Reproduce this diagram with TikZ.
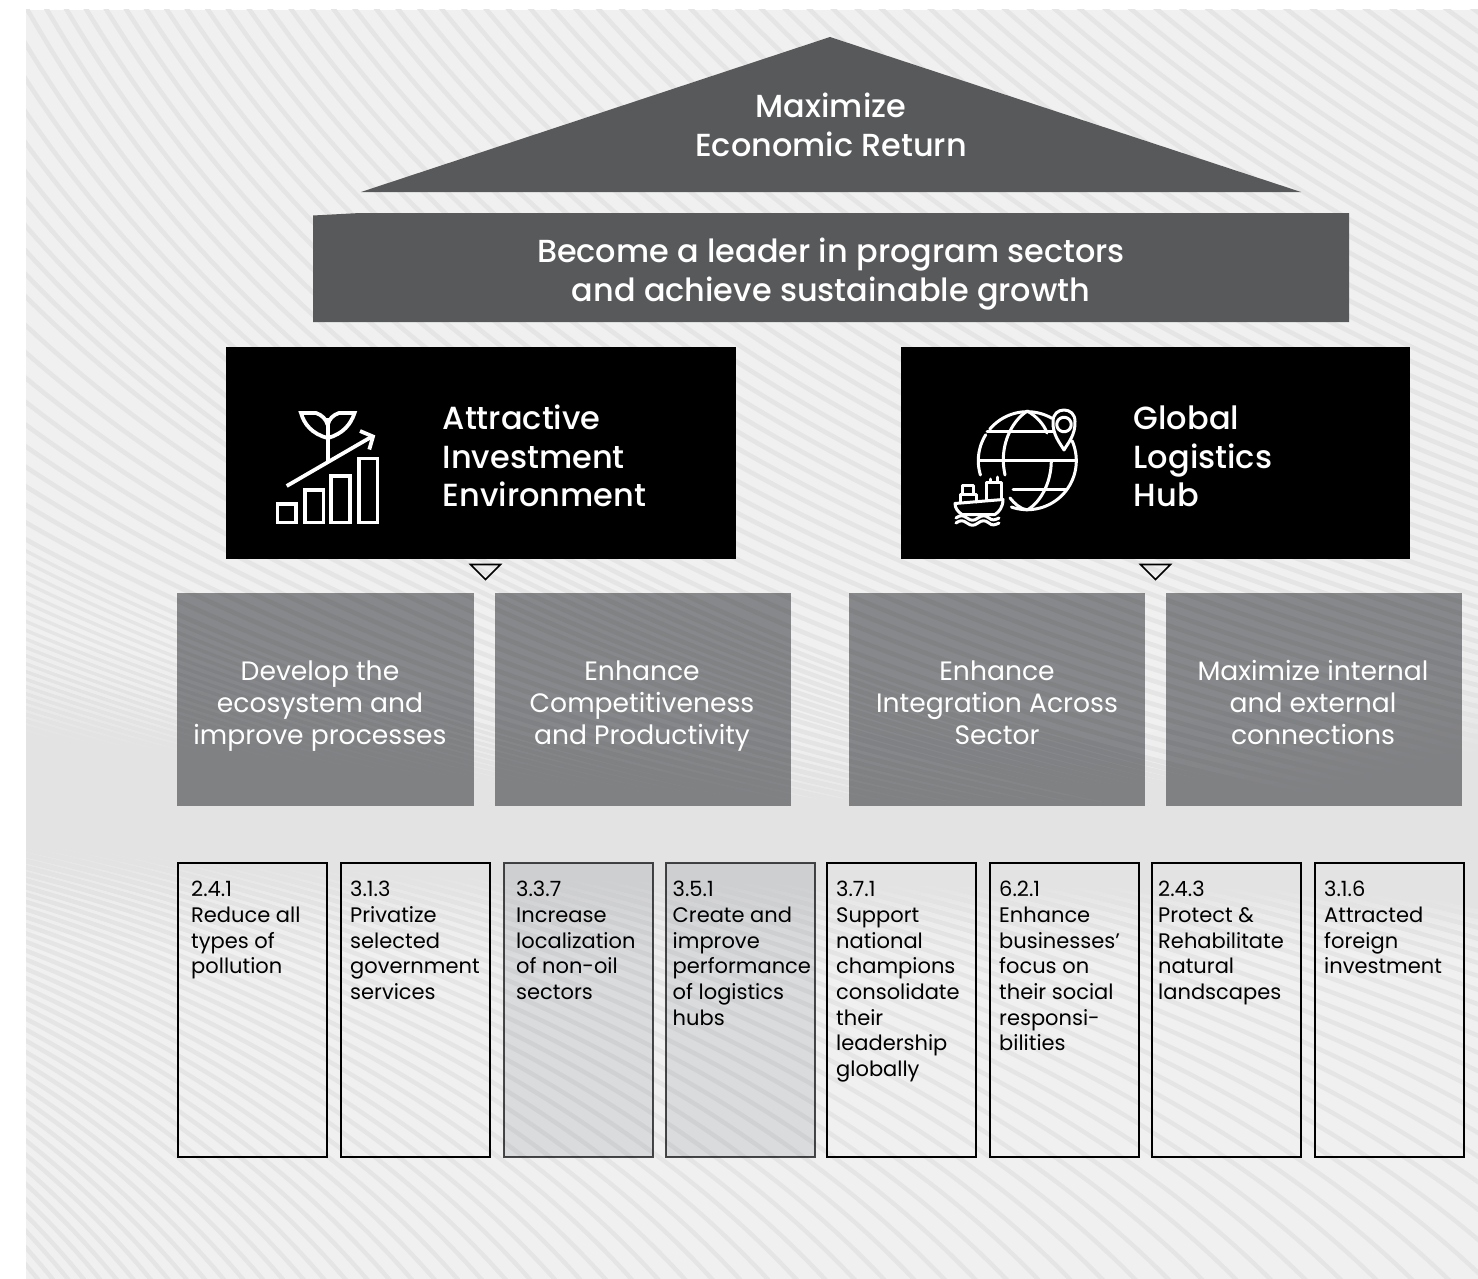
\documentclass[tikz,border=0pt]{standalone}
\usepackage{fontspec}
\setmainfont{Poppins}
\newfontfamily\pmed{Poppins}[UprightFont=* Medium]
\usetikzlibrary{calc}
\definecolor{bgbase}{HTML}{F0F0F0}
\definecolor{bgstripe}{HTML}{E5E5E5}
\definecolor{bgband}{HTML}{E3E3E3}
\definecolor{slate}{HTML}{58595B}
\definecolor{midgrey}{HTML}{909194}
\definecolor{palegrey}{HTML}{E8E9EB}
\tikzset{
  stripe/.style={bgstripe,line width=4.6pt},
  finestripe/.style={bgstripe,line width=3.4pt},
  lowstripe/.style={bgstripe,line width=4.4pt},
  midbox/.style={fill=midgrey,draw=none,inner sep=0pt,anchor=north west},
  paperbox/.style={draw=black,line width=2pt,inner sep=0pt,anchor=north west,minimum width=149pt,minimum height=294pt},
  shadebox/.style={draw=slate!85!black,line width=2pt,fill=palegrey,inner sep=0pt,anchor=north west,minimum width=149pt,minimum height=294pt},
  roofbox/.style={fill=black,draw=none,inner sep=0pt,anchor=north west},
  marker/.style={draw=black,line width=1.6pt,line join=miter},
  titletext/.style={text=white,align=center,inner sep=0pt,font=\pmed\fontsize{31.9}{39}\selectfont},
  pillartext/.style={text=white,align=left,inner sep=0pt,anchor=west,font=\pmed\fontsize{32}{38.5}\selectfont},
  midtext/.style={text=white,align=center,inner sep=0pt,font=\fontsize{26.6}{32}\selectfont},
  smalltext/.style={text=black,align=left,inner sep=0pt,anchor=north west,font=\fontsize{21}{25.7}\selectfont},
  icon/.style={draw=white,line width=3.8pt,line join=miter,line cap=butt},
  iconthin/.style={draw=white,line width=3pt,line cap=round,line join=round},
}
\newcommand{\fadeup}[1]{%
  \pgfmathsetmacro\ff{sqrt(#1/20)}%
  \fill[bgband,opacity=0.08] plot[smooth] coordinates {
    (0,{640+124*\ff}) (400,{690+115*\ff}) (800,{730+105*\ff}) (1100,{740+110*\ff}) (1300,{690+140*\ff}) (1500,{620+168*\ff})}
    -- (1500,800) -- (1300,840) -- (1100,856) -- (800,845) -- (400,815) -- (0,775) -- cycle;}
\newcommand{\fadedown}[1]{%
  \pgfmathsetmacro\ff{sqrt(#1/20)}%
  \fill[bgband,opacity=0.08] plot[smooth] coordinates {
    (0,{930-117*\ff}) (400,{950-102*\ff}) (800,{960-102*\ff}) (1100,{960-98*\ff}) (1300,{950-80*\ff}) (1500,{960-74*\ff})}
    -- (1500,875) -- (1300,860) -- (1100,852) -- (800,848) -- (400,838) -- (0,803) -- cycle;}
\newcommand{\arcpath}[5]{plot[domain=#4:#5,samples=40,smooth] ({#1+#3*cos(\x)},{#2-#3*sin(\x)})}
\begin{document}
\begin{tikzpicture}[x=1pt,y=-1pt]
\useasboundingbox (0,0) rectangle (1478,1279);
\fill[white] (0,0) rectangle (1478,1279);
% ---------- striped ground
\begin{scope}
\clip (26,10) rectangle (1478,1279);
\fill[bgbase] (26,10) rectangle (1478,1279);
\foreach \i in {0,...,66}{
  \pgfmathsetmacro\xo{19*\i+.06*\i*\i}
  \pgfmathsetmacro\cc{1+\xo/1000}
  \draw[stripe] (\xo,-40) .. controls ({\xo+180*\cc},300) and ({\xo+500*\cc},640) .. ({\xo+1400*\cc},815) -- ++(700,60);
}
\foreach \i in {1,...,10}{
  \pgfmathsetmacro\xo{-22*\i}
  \draw[stripe] (\xo,-40) .. controls ({\xo+180},300) and ({\xo+500},640) .. ({\xo+1400},815) -- ++(700,60);
}
\foreach \i in {1,...,11}{
  \pgfmathsetmacro\xo{-220-30*\i}
  \draw[stripe] (\xo,-40) .. controls ({\xo+180},300) and ({\xo+500},640) .. ({\xo+1400},815) -- ++(700,60);
}
\foreach \i in {1,...,42}{
  \pgfmathsetmacro\xo{-550-21*\i}
  \draw[finestripe] (\xo,-40) .. controls ({\xo+180},300) and ({\xo+500},640) .. ({\xo+1400},815) -- ++(700,60);
}
\foreach \i in {0,...,85}{
  \pgfmathsetmacro\xb{40+14*\i+.2*\i*\i}
  \pgfmathsetmacro\cc{1+\xb/5000}
  \draw[lowstripe] ({\xb-1000*\cc},800) .. controls ({\xb-550*\cc},880) and ({\xb-190*\cc},1050) .. (\xb,1320);
}
\foreach \k in {0,...,19}{\fadeup{\k}\fadedown{\k}}
\fill[bgband] plot[smooth] coordinates {(0,764) (400,805) (800,835) (1100,850) (1300,830) (1500,788)}
  -- (1500,886) -- (1300,870) -- (1100,862) -- (800,858) -- (400,848) -- (0,813) -- cycle;
\end{scope}
% ---------- roof and banner
\fill[slate] (830,37) -- (1301,192) -- (361,192) -- cycle;
\fill[slate] (313,215.5) -- (360,213) -- (1349,213) -- (1349,322) -- (313,322) -- cycle;
\node[titletext] (roof) at (831,125) {Maximize\\Economic Return};
\node[titletext] (banner) at (831,274) {Become a leader in program sectors\\and achieve sustainable growth};
% ---------- pillars
\node[roofbox,minimum width=510pt,minimum height=212pt] (pillarA) at (226,347) {};
\node[roofbox,minimum width=509pt,minimum height=212pt] (pillarB) at (901,347) {};
\node[pillartext] (pillarAtext) at (442.5,456) {Attractive\\Investment\\Environment};
\node[pillartext] (pillarBtext) at (1133.5,456.5) {Global\\Logistics\\Hub};
% markers
\draw[marker] (470.5,564.5) -- (500.5,564.5) -- (485.5,579.5) -- cycle;
\draw[marker] (1140.5,564.5) -- (1170.5,564.5) -- (1155.5,579.5) -- cycle;
% ---------- middle boxes
\begin{scope}[blend mode=multiply]
\node[midbox,minimum width=297pt,minimum height=213pt] (m1) at (177,593) {};
\node[midbox,minimum width=296pt,minimum height=213pt] (m2) at (495,593) {};
\node[midbox,minimum width=296pt,minimum height=213pt] (m3) at (849,593) {};
\node[midbox,minimum width=296pt,minimum height=213pt] (m4) at (1166,593) {};
\end{scope}
\node[midtext] (m1t) at (320,706) {Develop the\\ecosystem and\\improve processes};
\node[midtext] (m2t) at (642,706) {Enhance\\Competitiveness\\and Productivity};
\node[midtext] (m3t) at (997,703) {Enhance\\Integration Across\\Sector};
\node[midtext] (m4t) at (1313,702) {Maximize internal\\and external\\connections};
% ---------- detail boxes
\node[paperbox] (d1) at (177.3,862) {};
\node[paperbox] (d2) at (340,862) {};
\begin{scope}[blend mode=multiply]
\node[shadebox] (d3) at (502.5,862) {};
\node[shadebox] (d4) at (665,862) {};
\end{scope}
\node[paperbox] (d5) at (826,862) {};
\node[paperbox] (d6) at (988.5,862) {};
\node[paperbox] (d7) at (1151,862) {};
\node[paperbox] (d8) at (1313.5,862) {};
\node[smalltext] (t1) at (191,881) {2.4.1\\Reduce all\\types of\\pollution};
\node[smalltext] (t2) at (350,881) {3.1.3\\Privatize\\selected\\government\\services};
\node[smalltext] (t3) at (516,881) {3.3.7\\Increase\\localization\\of non-oil\\sectors};
\node[smalltext] (t4) at (672.5,881) {3.5.1\\Create and\\improve\\performance\\of logistics\\hubs};
\node[smalltext] (t5) at (836,881) {3.7.1\\Support\\national\\champions\\consolidate\\their\\leadership\\globally};
\node[smalltext] (t6) at (999,881) {6.2.1\\Enhance\\businesses’\\focus on\\their social\\responsi-\\bilities};
\node[smalltext] (t7) at (1158,881) {2.4.3\\Protect \&\\Rehabilitate\\natural\\landscapes};
\node[smalltext] (t8) at (1324,881) {3.1.6\\Attracted\\foreign\\investment};
% ---------- growth icon
\draw[icon] (277.5,504) rectangle (296,522.5);
\draw[icon] (305,490) rectangle (323.5,522.5);
\draw[icon] (331,476) rectangle (350,522.5);
\draw[icon] (359,458.5) rectangle (377.5,522.5);
\draw[icon] (286.7,486) -- (371.7,436.7);
\draw[icon] (360,431) -- (373,436.5) -- (369.3,449.5);
\draw[icon] (327.7,418) -- (327.7,462);
\draw[icon] (327.7,438) .. controls (312,434) and (304,424) .. (301,413) -- (316,413) .. controls (322,415) and (326,419) .. (327.7,425);
\draw[icon] (327.7,438) .. controls (343,434) and (351,424) .. (354.5,413) -- (339,413) .. controls (333,415) and (329,419) .. (327.7,425);
% ---------- globe icon
\draw[iconthin] \arcpath{1027.3}{460.7}{49}{60}{140};
\draw[iconthin] \arcpath{1027.3}{460.7}{49}{148}{197};
\draw[iconthin] \arcpath{1027.3}{460.7}{49}{-109}{24};
\draw[iconthin] (1027.3,411) .. controls (1012,421) and (1003,441) .. (1003.3,460.7) .. controls (1003.3,465) and (1004,470) .. (1005,475);
\draw[iconthin] (1010,498) .. controls (1014,503) and (1020,509) .. (1027.3,510);
\draw[iconthin] (1027.3,411) .. controls (1036,416) and (1044,424) .. (1047,433);
\draw[iconthin] (1051.3,460.7) .. controls (1051.3,481) and (1042,501) .. (1027.3,510);
\draw[iconthin] (987,431.7) -- (1054,431.7);
\draw[iconthin] (979.5,460.7) -- (1075.5,460.7);
\draw[iconthin] (1013,489.3) -- (1066,489.3);
\draw[iconthin] (1064,450) .. controls (1060,443) and (1052.5,435) .. (1053,421.5) .. controls (1053,414) and (1058,410) .. (1064,410) .. controls (1070,410) and (1075,414) .. (1075,421.5) .. controls (1075.5,435) and (1068,443) .. (1064,450);
\draw[iconthin] \arcpath{1064}{424.5}{7.2}{0}{360};
% ---------- ship
\draw[iconthin] (955,503.5) -- (1003,499.5) .. controls (1003,507) and (999,512) .. (995,514.5) -- (962,514.5) .. controls (958,512) and (955,508) .. (955,503.5) -- cycle;
\draw[iconthin] (960,502.5) -- (960,494) -- (976,494) -- (976,502);
\draw[iconthin] (962.5,494) -- (962.5,485) -- (973.5,485) -- (973.5,494);
\draw[iconthin] (986,500) -- (986,482) -- (1001,482) -- (1001,499);
\draw[iconthin] (990,482) -- (990,479);
\draw[iconthin] (997,482) -- (997,477);
\draw[iconthin] (956,518) .. controls (960,515) and (963,515) .. (967,518) .. controls (971,521) and (974,521) .. (978,518) .. controls (982,515) and (985,515) .. (989,518) .. controls (992,521) and (995,520) .. (999,518);
\draw[iconthin] (956,523) .. controls (960,520) and (963,520) .. (967,523) .. controls (971,526) and (974,526) .. (978,523) .. controls (982,520) and (985,520) .. (989,523) .. controls (992,526) and (995,525) .. (999,523);
\end{tikzpicture}
\end{document}
